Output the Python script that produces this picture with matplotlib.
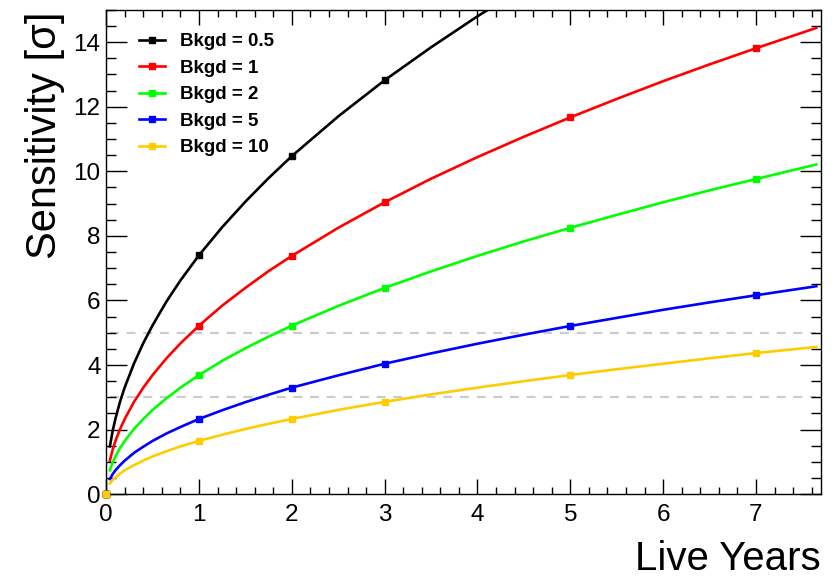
import matplotlib

matplotlib.use("Agg")
import matplotlib.pyplot as plt
from matplotlib.ticker import MultipleLocator

plt.rcParams["font.family"] = ["Liberation Sans", "DejaVu Sans"]

# smooth curves, values
years = [0.04, 0.07, 0.1, 0.15, 0.2, 0.3, 0.4, 0.5, 0.65, 0.8, 1, 1.25, 1.5,
         1.75, 2, 2.5, 3, 3.5, 4, 4.5, 5, 5.5, 6, 6.5, 7, 7.65]
sens_05 = [1.48, 1.96, 2.34, 2.87, 3.31, 4.05, 4.68, 5.23, 5.97, 6.62, 7.40,
           8.27, 9.06, 9.79, 10.47, 11.70, 12.82, 13.84, 14.80, 15.70]
sens_1 = [1.04, 1.38, 1.65, 2.02, 2.33, 2.86, 3.30, 3.69, 4.21, 4.67, 5.22,
          5.84, 6.39, 6.91, 7.38, 8.25, 9.04, 9.77, 10.44, 11.07, 11.67,
          12.24, 12.79, 13.31, 13.81, 14.44]
sens_2 = [0.74, 0.98, 1.17, 1.43, 1.65, 2.02, 2.33, 2.61, 2.97, 3.30, 3.69,
          4.13, 4.52, 4.88, 5.22, 5.83, 6.39, 6.90, 7.38, 7.83, 8.25, 8.65,
          9.04, 9.41, 9.76, 10.21]
sens_5 = [0.47, 0.62, 0.74, 0.90, 1.04, 1.28, 1.47, 1.65, 1.88, 2.08, 2.33,
          2.60, 2.85, 3.08, 3.30, 3.68, 4.04, 4.36, 4.66, 4.94, 5.21, 5.46,
          5.71, 5.94, 6.16, 6.44]
sens_10 = [0.33, 0.44, 0.52, 0.64, 0.74, 0.90, 1.04, 1.17, 1.33, 1.48, 1.65,
           1.84, 2.02, 2.18, 2.33, 2.61, 2.86, 3.09, 3.30, 3.50, 3.69, 3.87,
           4.04, 4.21, 4.37, 4.56]

# marker points
mark_years = [0, 1, 2, 3, 5, 7]
mark_05 = [0, 7.40, 10.47, 12.82, 16.55, 19.58]
mark_1 = [0, 5.22, 7.38, 9.04, 11.67, 13.81]
mark_2 = [0, 3.69, 5.22, 6.39, 8.25, 9.76]
mark_5 = [0, 2.33, 3.30, 4.04, 5.21, 6.16]
mark_10 = [0, 1.65, 2.33, 2.86, 3.69, 4.37]

labels = ["Bkgd = 0.5", "Bkgd = 1", "Bkgd = 2", "Bkgd = 5", "Bkgd = 10"]
colors = ["#000000", "#ff0000", "#00ff00", "#0000ff", "#ffcc00"]
curves = [sens_05, sens_1, sens_2, sens_5, sens_10]
marks = [mark_05, mark_1, mark_2, mark_5, mark_10]

ref_levels = [3, 5]

fig = plt.figure(figsize=(8.36, 5.78), dpi=100)
ax = fig.add_axes([0.127, 0.145, 0.855, 0.838])

ax.hlines(ref_levels, years[0], years[-1], colors="#cccccc", linestyles=(0, (4, 3.5)),
          linewidth=1.6, zorder=1)

for lab, col, ys, my in zip(labels, colors, curves, marks):
    ax.plot(years[:len(ys)], ys, color=col, linewidth=1.9, zorder=2)
    ax.plot(mark_years, my, linestyle="none", marker="s", markersize=3.8,
            color=col, clip_on=False, zorder=3)
    ax.plot([], [], color=col, linewidth=1.9, marker="s", markersize=3.8, label=lab)

ax.set_xlim(0, 7.7)
ax.set_ylim(0, 15)
ax.xaxis.set_major_locator(MultipleLocator(1))
ax.xaxis.set_minor_locator(MultipleLocator(0.2))
ax.yaxis.set_major_locator(MultipleLocator(2))
ax.yaxis.set_minor_locator(MultipleLocator(0.5))

ax.tick_params(axis="both", which="both", direction="in", top=True, right=True,
               width=1.0, labelsize=17.5)
ax.tick_params(axis="x", which="major", length=11, pad=7)
ax.tick_params(axis="x", which="minor", length=5)
ax.tick_params(axis="y", which="major", length=15, pad=4)
ax.tick_params(axis="y", which="minor", length=7.5)
for s in ax.spines.values():
    s.set_linewidth(1.0)

ax.set_xlabel("Live Years", fontsize=29, loc="right")
ax.xaxis.set_label_coords(1.0, -0.094)
ax.set_ylabel("Sensitivity [σ]", fontsize=30, loc="top")
ax.yaxis.set_label_coords(-0.058, 0.996)

ax.legend(loc="upper left", bbox_to_anchor=(0.035, 0.967), frameon=False,
          prop={"weight": "bold", "size": 13.5}, handlelength=1.4,
          handletextpad=0.8, labelspacing=0.5, borderaxespad=0)

fig.savefig("out.png", dpi=100)
